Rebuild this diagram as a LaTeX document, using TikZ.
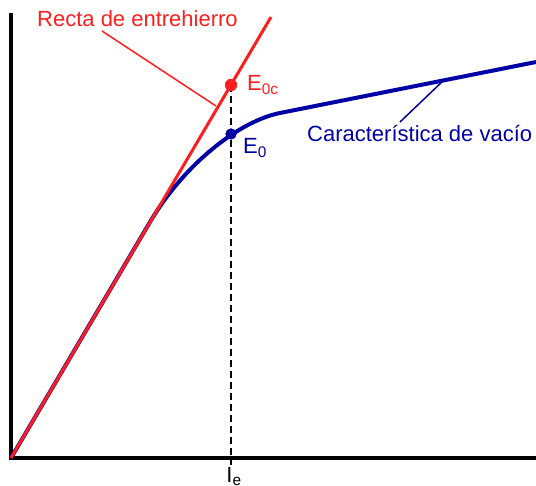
\documentclass[tikz,border=0pt]{standalone}
\usepackage{fontspec}
\setmainfont{Liberation Sans}
\usetikzlibrary{positioning}
\usetikzlibrary{calc}
\definecolor{rectared}{RGB}{255,30,30}
\definecolor{vacioblue}{RGB}{0,0,165}

\begin{document}
\begin{tikzpicture}[x=1pt, y=-1pt,
            axisline/.style={line width=3.5pt},
            rectaline/.style={draw=rectared, line width=3pt},
            vacioline/.style={draw=vacioblue, line width=4pt, line join=round},
            leaderline/.style={line width=1.5pt},
            dashline/.style={line width=1.3pt, dash pattern=on 7pt off 4pt},
            rectadot/.style={circle, fill=rectared, inner sep=0pt, minimum size=12pt},
            vaciodot/.style={circle, fill=vacioblue, inner sep=0pt, minimum size=11pt},
            rectalabel/.style={text=rectared, font=\fontsize{22}{25}\selectfont, inner sep=0pt},
            vaciolabel/.style={text=vacioblue, font=\fontsize{22}{25}\selectfont, inner sep=0pt},
            ]
            \useasboundingbox (0,0) rectangle (536,486);
            \coordinate (O) at (11,458);
            \coordinate (ytop) at (11,13);
            \coordinate (xend) at (536,458);
            \coordinate (rtop) at (271,17);
            \coordinate (Iefoot) at (231,465);
            \node[rectadot] (E0c) at (231,85) {};
            \node[vaciodot] (E0) at (231,134) {};
            \node[rectalabel, anchor=base west] (recta) at (37,27) {Recta de entrehierro};
            \node[vaciolabel, anchor=base west] (vacio) at (307,142) {Característica de vacío};
            \node[rectalabel, anchor=base west] (E0clabel) at (247,91) {E\textsubscript{0c}};
            \node[vaciolabel, anchor=base west] (E0label) at (243,154) {E\textsubscript{0}};
            \node[inner sep=0pt, anchor=north, font=\fontsize{22}{25}\selectfont] (Ie) at (234,467) {I\textsubscript{e}};
            \coordinate (rectafoot) at (102,31);
            \coordinate (rectatip) at (216,106);
            \coordinate (vaciofoot) at (400,122);
            \coordinate (vaciotip) at (445,79);
            % axes
            \draw[axisline] (ytop) -- (O) -- (xend);
            \draw[dashline] (E0c.center) -- (Iefoot);
            % curves
            \draw[vacioline] (O) -- (150,222) .. controls (185,163) and (240,121) .. (280,113) -- (536,62);
            \draw[rectaline] (O) -- (rtop);
            \draw[leaderline, rectared] (rectafoot) -- (rectatip);
            \draw[leaderline, vacioblue] (vaciofoot) -- (vaciotip);
            \node[rectadot] at (E0c) {};
            \node[vaciodot] at (E0) {};
        \end{tikzpicture}
\end{document}
